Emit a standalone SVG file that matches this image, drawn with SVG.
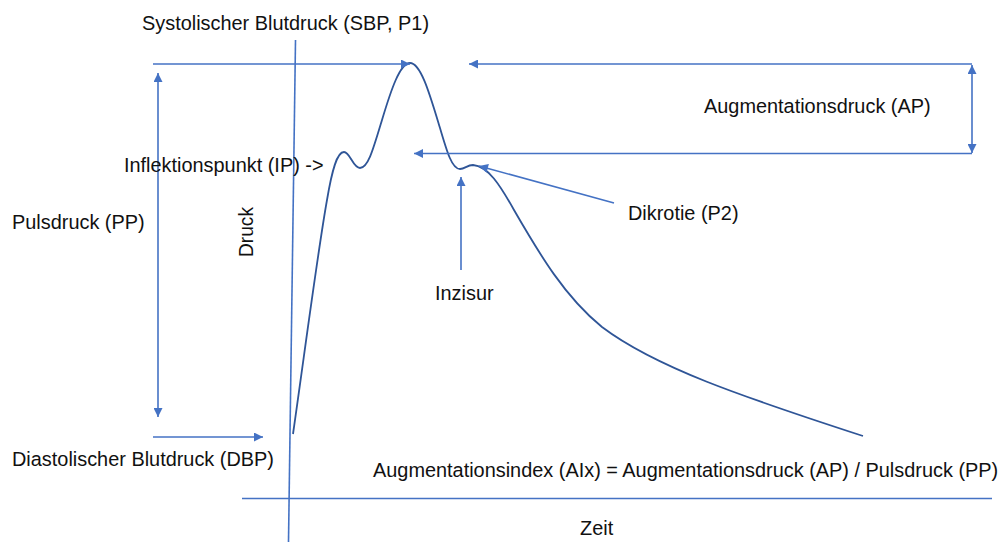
<svg xmlns="http://www.w3.org/2000/svg" width="1003" height="542" viewBox="0 0 1003 542">
<style>
.t{font-family:"Liberation Sans",Arial,sans-serif;font-size:19.9px;fill:#111}
.ln{stroke:#4472C4;stroke-width:1.6;fill:none}
.cv{stroke:#2F5597;stroke-width:1.8;fill:none}
</style>
<defs>
<marker id="ah" viewBox="0 0 10 10" refX="10" refY="5" markerWidth="11" markerHeight="9" markerUnits="userSpaceOnUse" orient="auto-start-reverse">
<path d="M0,0 L10,5 L0,10 Z" fill="#4472C4"/>
</marker>
</defs>
<rect width="1003" height="542" fill="#fff"/>
<g id="axes">
<line class="ln" x1="295.5" y1="40" x2="288.5" y2="542"/>
<line class="ln" x1="242" y1="498.5" x2="992" y2="498.5"/>
</g>
<g id="curve">
<path class="cv" d="M293,434 C305,350 318,250 327,200 C332,170 337,152 344,152 C350,152 353,168 360,168 C368,168 373,150 382,120 C391,90 400,63 410,63 C421,63 430,95 440,128 C447,152 452,169 460,169 C465,169 467,165 473,165 C488,166 500,185 514,210 C540,255 565,297 602,327 C655,367 740,396 863,436"/>
</g>
<g id="connectors">
<line class="ln" x1="153" y1="64" x2="410" y2="64" marker-end="url(#ah)"/>
<line class="ln" x1="972" y1="64" x2="469" y2="64" marker-end="url(#ah)"/>
<line class="ln" x1="972" y1="153.5" x2="414" y2="153.5" marker-end="url(#ah)"/>
<line class="ln" x1="972" y1="65" x2="972" y2="153" marker-start="url(#ah)" marker-end="url(#ah)"/>
<line class="ln" x1="158" y1="73" x2="158" y2="417" marker-start="url(#ah)" marker-end="url(#ah)"/>
<line class="ln" x1="153" y1="437" x2="263" y2="437" marker-end="url(#ah)"/>
<line class="ln" x1="461" y1="270" x2="461" y2="177" marker-end="url(#ah)"/>
<line class="ln" x1="614" y1="203" x2="479" y2="166" marker-end="url(#ah)"/>
</g>
<g id="labels">
<text class="t" x="142" y="30">Systolischer Blutdruck (SBP, P1)</text>
<text class="t" x="704" y="113">Augmentationsdruck (AP)</text>
<text class="t" x="124" y="172">Inflektionspunkt (IP) -&gt;</text>
<text class="t" x="12" y="229">Pulsdruck (PP)</text>
<text class="t" transform="translate(253,257) rotate(-90)" textLength="50" lengthAdjust="spacingAndGlyphs">Druck</text>
<text class="t" x="628" y="220">Dikrotie (P2)</text>
<text class="t" x="435" y="300">Inzisur</text>
<text class="t" x="12" y="466">Diastolischer Blutdruck (DBP)</text>
<text class="t" x="373" y="477">Augmentationsindex (AIx) = Augmentationsdruck (AP) / Pulsdruck (PP)</text>
<text class="t" x="580" y="535">Zeit</text>
</g>
</svg>
